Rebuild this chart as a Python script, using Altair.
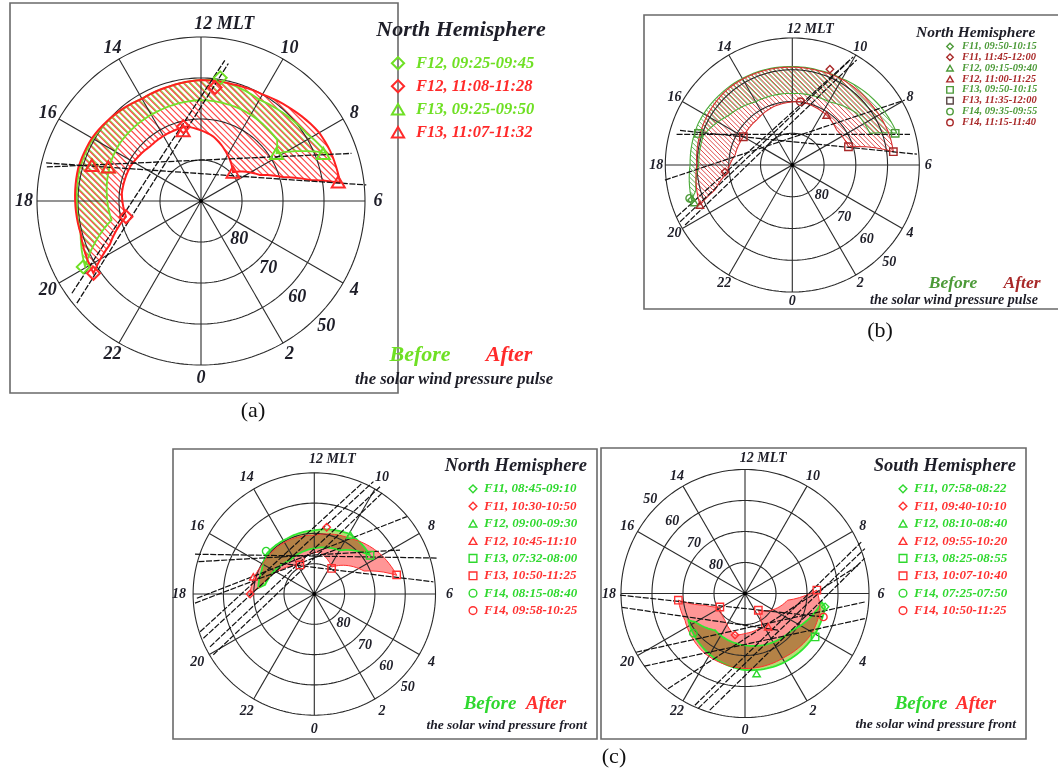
import numpy as np
import pandas as pd
import altair as alt

W, H = 1058, 769

# ---------------- grid / labels ----------------
LAT_CIRCLES = [80, 70, 60, 50]
LAT_TEXT = ["80", "70", "60", "50"]
HOUR_TICKS = [12, 14, 16, 18, 20, 22, 0, 2, 4, 6, 8, 10]
HOUR_TEXT = ["12 MLT", "14", "16", "18", "20", "22", "0", "2", "4", "6", "8", "10"]
SPOKE_HOURS = [12, 14, 16, 18, 20, 22]

# ---------------- panel (a) ----------------
A_AFTER_MLT = [20.26, 19.0, 18.0, 17.0, 16.0, 15.0, 14.0, 13.0, 12.0, 11.0, 10.0, 9.0, 8.0, 7.4, 6.5,
               6.73, 7.09, 7.59, 8.8, 10.11, 11.28, 12.73, 14.88, 16.28, 17.63, 18.79, 19.71]
A_AFTER_LAT = [58.4, 59.6, 59.3, 59.0, 59.3, 60.2, 61.2, 61.0, 60.5, 60.5, 60.0, 58.5, 56.7, 56.2, 55.8,
               62.9, 69.2, 74.3, 79.5, 76.8, 74.0, 71.5, 71.8, 70.8, 70.6, 71.3, 65.3]
A_BEFORE_MLT = [19.97, 19.0, 18.0, 17.0, 16.0, 15.0, 14.0, 13.0, 12.0, 11.41, 10.0, 9.0, 8.17, 7.39,
                8.15, 8.58, 10.4, 12.0, 13.6, 15.6, 16.35, 18.8]
A_BEFORE_LAT = [57.5, 59.6, 59.7, 59.4, 59.6, 60.3, 61.2, 61.0, 60.5, 60.3, 61.5, 60.5, 59.4, 57.2,
                68.2, 66.2, 65.6, 65.4, 65.7, 65.7, 66.0, 67.7]
A_TRACK_MLT1 = [17.17, 17.08, 20.37, 20.63]
A_TRACK_LAT1 = [51.5, 51.1, 51.3, 50.8]
A_TRACK_MLT2 = [7.17, 6.37, 11.36, 11.25]
A_TRACK_LAT2 = [51.5, 49.5, 55.2, 55.8]
A_MK_MLT = [11.41, 19.95, 16.79, 16.65, 8.15, 7.42, 11.53, 12.89, 18.79, 20.26, 16.79, 16.65, 12.95, 8.8, 6.53]
A_MK_LAT = [59.6, 57.1, 62.0, 65.9, 68.2, 58.0, 62.1, 71.4, 71.3, 58.4, 62.0, 65.9, 72.3, 79.5, 56.2]
A_MK_SHAPE = ["diamond", "diamond", "triangle-up", "triangle-up", "triangle-up", "triangle-up",
              "diamond", "diamond", "diamond", "diamond", "triangle-up", "triangle-up", "triangle-up",
              "triangle-up", "triangle-up"]
A_MK_GROUP = ["before"] * 6 + ["after"] * 9
A_LEG_TEXT = ["F12, 09:25-09:45", "F12, 11:08-11:28", "F13, 09:25-09:50", "F13, 11:07-11:32"]
A_LEG_SHAPE = ["diamond", "diamond", "triangle-up", "triangle-up"]
A_LEG_GROUP = ["before", "after", "before", "after"]

# ---------------- panel (b) ----------------
B_AFTER_MLT = [19.56, 18.0, 16.0, 14.75, 13.0, 12.0, 11.0, 10.0, 8.38, 7.2, 6.5,
               7.2, 8.55, 9.7, 11.52, 13.2, 14.55, 16.0, 17.34, 18.48, 19.19]
B_AFTER_LAT = [58.3, 59.9, 59.0, 58.6, 59.0, 59.2, 59.2, 58.8, 58.6, 58.0, 57.9,
               71.4, 72.2, 70.9, 69.9, 70.7, 71.9, 72.2, 71.7, 69.2, 64.4]
B_BEFORE_MLT = [19.28, 18.0, 16.4, 15.0, 13.0, 12.0, 11.0, 10.0, 8.07, 7.13,
                7.48, 8.59, 10.0, 12.0, 14.0, 15.5, 16.76, 18.0, 19.0]
B_BEFORE_LAT = [56.4, 57.8, 57.6, 58.2, 58.8, 59.0, 59.0, 58.6, 56.5, 55.6,
                63.6, 64.0, 67.0, 67.5, 67.0, 64.5, 60.5, 60.5, 58.5]
B_TRACK_MLT1 = [17.01, 16.86, 19.61, 19.79, 19.95, 18.45]
B_TRACK_LAT1 = [52.3, 53.0, 50.1, 50.4, 51.3, 49.6]
B_TRACK_MLT2 = [6.97, 6.33, 10.04, 10.1, 9.9, 8.0]
B_TRACK_LAT2 = [51.7, 50.6, 50.9, 53.0, 51.2, 49.1]
B_MK_MLT = [19.28, 16.76, 7.14, 19.4, 19.2, 10.57, 18.4, 19.56, 9.7, 16.0, 7.2, 6.5, 11.52]
B_MK_LAT = [56.4, 58.8, 56.1, 57.0, 56.0, 57.6, 68.7, 58.3, 70.9, 72.2, 71.4, 57.9, 69.9]
B_MK_SHAPE = ["diamond", "square", "square", "triangle-up", "circle",
              "diamond", "diamond", "triangle-up", "triangle-up", "square", "square", "square", "circle"]
B_MK_GROUP = ["before"] * 5 + ["after"] * 8
B_LEG_TEXT = ["F11, 09:50-10:15", "F11, 11:45-12:00", "F12, 09:15-09:40", "F12, 11:00-11:25",
              "F13, 09:50-10:15", "F13, 11:35-12:00", "F14, 09:35-09:55", "F14, 11:15-11:40"]

# ---------------- panel (c) left, north ----------------
CL_AFTER_MLT = [18.0, 16.95, 15.95, 14.35, 12.0, 9.81, 8.11, 6.85, 7.65, 9.81, 11.5, 12.74, 13.58, 15.7, 17.5]
CL_AFTER_LAT = [68.8, 69.4, 70.4, 70.3, 70.6, 68.2, 64.6, 62.1, 71.9, 79.4, 76.0, 77.0, 79.7, 76.2, 71.9]
CL_BEFORE_MLT = [17.6, 16.4, 15.3, 13.77, 12.0, 9.94, 8.32, 9.97, 12.1, 14.4, 17.3]
CL_BEFORE_LAT = [71.4, 71.0, 69.4, 69.6, 69.0, 67.0, 67.6, 73.3, 75.0, 76.3, 73.5]
CL_TRACK_MLT1 = [16.77, 16.96, 15.21, 19.22, 19.45, 19.79, 20.07, 18.14, 18.29]
CL_TRACK_LAT1 = [48.5, 50.3, 74.8, 50.3, 50.6, 51.4, 51.1, 51.2, 50.5]
CL_TRACK_MLT2 = [7.08, 7.81, 6.39, 10.45, 10.15, 9.9, 9.73, 8.66, 10.05]
CL_TRACK_LAT2 = [47.5, 58.2, 50.5, 50.3, 48.1, 48.5, 49.3, 50.2, 72.6]
CL_MK_MLT = [15.22, 9.9, 8.32, 11.3, 13.75, 9.73, 6.87, 16.95, 18.0]
CL_MK_LAT = [68.7, 67.2, 67.6, 67.6, 79.3, 79.8, 62.1, 69.1, 68.8]
CL_MK_SHAPE = ["circle", "triangle-up", "square", "diamond", "square", "square", "square", "triangle-up", "diamond"]
CL_MK_GROUP = ["before"] * 3 + ["after"] * 6
CL_LEG_TEXT = ["F11, 08:45-09:10", "F11, 10:30-10:50", "F12, 09:00-09:30", "F12, 10:45-11:10",
               "F13, 07:32-08:00", "F13, 10:50-11:25", "F14, 08:15-08:40", "F14, 09:58-10:25"]

# ---------------- panel (c) right, south ----------------
CR_AFTER_MLT = [18.38, 19.6, 21.75, 0.0, 2.15, 3.93, 5.16, 6.18, 5.4, 2.57, 1.77, 0.0, 23.1, 21.55, 19.88, 19.09]
CR_AFTER_LAT = [68.4, 68.8, 66.7, 65.8, 65.8, 64.9, 65.2, 66.8, 76.1, 83.1, 78.0, 77.1, 76.2, 79.2, 80.8, 76.6]
CR_BEFORE_MLT = [19.68, 22.35, 0.0, 2.02, 3.84, 5.37, 5.58, 3.45, 0.0, 21.38, 19.97]
CR_BEFORE_LAT = [69.8, 66.9, 65.3, 64.4, 63.9, 63.8, 65.1, 70.8, 73.3, 74.7, 71.5]
CR_TRACK_MLT1 = [18.05, 18.43, 19.89, 20.39, 22.39, 22.52, 22.88, 21.4]
CR_TRACK_LAT1 = [49.7, 50.1, 50.1, 50.0, 50.5, 49.9, 50.7, 50.5]
CR_TRACK_MLT2 = [4.89, 2.8, 5.73, 5.21, 7.59, 7.37, 7.09, 6.93]
CR_TRACK_LAT2 = [63.6, 74.1, 51.3, 50.5, 49.0, 48.7, 49.8, 52.4]
CR_MK_MLT = [0.55, 3.88, 5.37, 20.5, 18.38, 19.88, 2.57, 6.18, 23.1, 2.33, 4.89]
CR_MK_LAT = [63.9, 63.4, 63.8, 69.0, 68.4, 80.8, 83.1, 66.8, 76.2, 76.9, 63.6]
CR_MK_SHAPE = ["triangle-up", "square", "diamond", "circle", "square", "square", "square", "square",
               "diamond", "triangle-up", "circle"]
CR_MK_GROUP = ["before"] * 4 + ["after"] * 7
CR_LEG_TEXT = ["F11, 07:58-08:22", "F11, 09:40-10:10", "F12, 08:10-08:40", "F12, 09:55-10:20",
               "F13, 08:25-08:55", "F13, 10:07-10:40", "F14, 07:25-07:50", "F14, 10:50-11:25"]

LEG8_SHAPE = ["diamond", "diamond", "triangle-up", "triangle-up", "square", "square", "circle", "circle"]
LEG8_GROUP = ["before", "after"] * 4

# ---------------- layout (pixel geometry and styles) ----------------
P = {
    "a": dict(cx=201, cy=201, s=4.1, box=(10, 3, 398, 393), hour_fs=18, hour_off=13, lat_fs=18, lat_mlt=3.0,
              lat_off=13, title="North Hemisphere", title_xy=(461, 29), title_align="center", title_fs=22,
              leg_mx=398, leg_tx=416, leg_y0=62.7, leg_dy=23, leg_fs=16.5, mk=170, leg_mk=150, mk_w=2.0,
              before_xy=(420, 354), after_xy=(509, 354), ba_fs=22,
              sub="the solar wind pressure pulse", sub_xy=(553, 379), sub_fs=16.5,
              green="#6fe024", red="#ff2a2a", hatch_g="#84e448", hatch_r="#ff4545", hatch_sp=4.4,
              hatch_w=1.2, out_g="#74e02c", out_r="#ff2020", out_wg=1.8, out_wr=2.0, style="hatch",
              track_w=1.3,
              mlt_after=A_AFTER_MLT, lat_after=A_AFTER_LAT, mlt_before=A_BEFORE_MLT, lat_before=A_BEFORE_LAT,
              t_m1=A_TRACK_MLT1, t_l1=A_TRACK_LAT1, t_m2=A_TRACK_MLT2, t_l2=A_TRACK_LAT2,
              mk_m=A_MK_MLT, mk_l=A_MK_LAT, mk_s=A_MK_SHAPE, mk_g=A_MK_GROUP,
              leg_text=A_LEG_TEXT, leg_shape=A_LEG_SHAPE, leg_group=A_LEG_GROUP),
    "b": dict(cx=792.3, cy=165, s=3.175, box=(644, 15, 1075, 309), hour_fs=14, hour_off=9, lat_fs=14, lat_mlt=3.0,
              lat_off=10, title="North Hemisphere", title_xy=(916, 31.5), title_align="left", title_fs=15.5,
              leg_mx=950, leg_tx=962, leg_y0=46, leg_dy=10.85, leg_fs=10.5, mk=55, leg_mk=42, mk_w=1.4,
              before_xy=(953, 283), after_xy=(1022, 283), ba_fs=17.5,
              sub="the solar wind pressure pulse", sub_xy=(870, 300), sub_fs=14, sub_align="left",
              green="#4c9a38", red="#a82828", hatch_g="#68b85a", hatch_r="#e04848", hatch_sp=3.3,
              hatch_w=1.0, out_g="#4caa3a", out_r="#d83030", out_wg=1.1, out_wr=1.1, style="hatch",
              track_w=1.2,
              mlt_after=B_AFTER_MLT, lat_after=B_AFTER_LAT, mlt_before=B_BEFORE_MLT, lat_before=B_BEFORE_LAT,
              t_m1=B_TRACK_MLT1, t_l1=B_TRACK_LAT1, t_m2=B_TRACK_MLT2, t_l2=B_TRACK_LAT2,
              mk_m=B_MK_MLT, mk_l=B_MK_LAT, mk_s=B_MK_SHAPE, mk_g=B_MK_GROUP,
              leg_text=B_LEG_TEXT, leg_shape=LEG8_SHAPE, leg_group=LEG8_GROUP),
    "cl": dict(cx=314.3, cy=594, s=3.03, box=(173, 449, 597, 739), hour_fs=14, hour_off=14, lat_fs=14,
               lat_mlt=3.0, lat_off=11, title="North Hemisphere", title_xy=(587, 465), title_align="right",
               title_fs=18.5, leg_mx=473, leg_tx=484, leg_y0=488.3, leg_dy=17.4, leg_fs=13, mk=55, leg_mk=60,
               mk_w=1.4, before_xy=(490, 703), after_xy=(546, 703), ba_fs=19,
               sub="the solar wind pressure front", sub_xy=(587, 725), sub_fs=13.5,
               green="#2ed82e", red="#ff3030", out_g="#30e830", out_r="#ff3030", out_wg=1.8, out_wr=1.0,
               style="fill", track_w=1.2,
               mlt_after=CL_AFTER_MLT, lat_after=CL_AFTER_LAT, mlt_before=CL_BEFORE_MLT, lat_before=CL_BEFORE_LAT,
               t_m1=CL_TRACK_MLT1, t_l1=CL_TRACK_LAT1, t_m2=CL_TRACK_MLT2, t_l2=CL_TRACK_LAT2,
               mk_m=CL_MK_MLT, mk_l=CL_MK_LAT, mk_s=CL_MK_SHAPE, mk_g=CL_MK_GROUP,
               leg_text=CL_LEG_TEXT, leg_shape=LEG8_SHAPE, leg_group=LEG8_GROUP),
    "cr": dict(cx=745, cy=593.5, s=3.1, box=(601, 448, 1026, 739), hour_fs=14, hour_off=12, lat_fs=14,
               lat_mlt=15.0, lat_off=10, title="South Hemisphere", title_xy=(1016, 465), title_align="right",
               title_fs=18.5, leg_mx=903, leg_tx=914, leg_y0=488.3, leg_dy=17.4, leg_fs=13, mk=55, leg_mk=60,
               mk_w=1.4, before_xy=(921, 703), after_xy=(976, 703), ba_fs=19,
               sub="the solar wind pressure front", sub_xy=(1016, 724), sub_fs=13.5,
               green="#2ed82e", red="#ff3030", out_g="#30e830", out_r="#ff3030", out_wg=1.8, out_wr=1.0,
               style="fill", track_w=1.2,
               mlt_after=CR_AFTER_MLT, lat_after=CR_AFTER_LAT, mlt_before=CR_BEFORE_MLT, lat_before=CR_BEFORE_LAT,
               t_m1=CR_TRACK_MLT1, t_l1=CR_TRACK_LAT1, t_m2=CR_TRACK_MLT2, t_l2=CR_TRACK_LAT2,
               mk_m=CR_MK_MLT, mk_l=CR_MK_LAT, mk_s=CR_MK_SHAPE, mk_g=CR_MK_GROUP,
               leg_text=CR_LEG_TEXT, leg_shape=LEG8_SHAPE, leg_group=LEG8_GROUP),
}
CAPTIONS = [("(a)", 253, 410), ("(b)", 880, 330), ("(c)", 614, 756)]


def to_xy(p, mlt, lat):
    mlt = np.asarray(mlt, float)
    lat = np.abs(np.asarray(lat, float))
    r = (90.0 - lat) * p["s"]
    th = np.deg2rad((12.0 - mlt) * 15.0)
    return p["cx"] + r * np.sin(th), p["cy"] - r * np.cos(th)


def at_radius(p, mlt, rpx):
    th = np.deg2rad((12.0 - mlt) * 15.0)
    return p["cx"] + rpx * np.sin(th), p["cy"] - rpx * np.cos(th)


def resample(mlt, lat, per_hour=6):
    """trace a closed boundary in (MLT, lat) so arcs stay curved after projection"""
    om, ol = [], []
    n = len(mlt)
    for i in range(n):
        m1, l1 = mlt[i], lat[i]
        m2, l2 = mlt[(i + 1) % n], lat[(i + 1) % n]
        dm = ((m2 - m1 + 12) % 24) - 12
        k = max(1, int(np.ceil(abs(dm) * per_hour)))
        for j in range(k):
            t = j / k
            om.append(m1 + dm * t)
            ol.append(l1 + (l2 - l1) * t)
    return np.array(om), np.array(ol)


def hatch(px, py, spacing, offset):
    u = px - py
    step = spacing * np.sqrt(2)
    segs = []
    n = len(px)
    for c in np.arange(u.min() + offset * np.sqrt(2), u.max(), step):
        hits = []
        for i in range(n):
            j = (i + 1) % n
            a, b = u[i] - c, u[j] - c
            if (a < 0) != (b < 0):
                t = a / (a - b)
                hits.append((px[i] + t * (px[j] - px[i]), py[i] + t * (py[j] - py[i])))
        hits.sort(key=lambda h: h[0] + h[1])
        for k in range(0, len(hits) - 1, 2):
            segs.append((hits[k][0], hits[k][1], hits[k + 1][0], hits[k + 1][1]))
    return segs


boxes, circles, spokes, centers = [], [], [], []
hatches, fills_r, fills_g, outlines, tracks, markers, texts = [], [], [], [], [], [], []

for key, p in P.items():
    x0, y0, x1, y1 = p["box"]
    boxes.append(dict(x=x0, y=y0, x2=x1, y2=y1))
    grid_m = np.linspace(0, 24, 241)
    for lat in LAT_CIRCLES:
        gx, gy = to_xy(p, grid_m, np.full_like(grid_m, lat))
        for i, (a, b) in enumerate(zip(gx, gy)):
            circles.append(dict(k=f"{key}{lat}", i=i, x=a, y=b))
    for h in SPOKE_HOURS:
        ax_, ay_ = to_xy(p, [h, h + 12], [50, 50])
        spokes.append(dict(x=ax_[0], y=ay_[0], x2=ax_[1], y2=ay_[1]))
    cxy = to_xy(p, [0], [90])
    centers.append(dict(x=cxy[0][0], y=cxy[1][0]))

    # ovals
    for grp in ["before", "after"]:
        mm, ll = resample(p[f"mlt_{grp}"], p[f"lat_{grp}"])
        px, py = to_xy(p, mm, ll)
        col_out = p["out_g"] if grp == "before" else p["out_r"]
        wid = p["out_wg"] if grp == "before" else p["out_wr"]
        for i, (a, b) in enumerate(zip(px, py)):
            outlines.append(dict(k=f"{key}{grp}", i=i, x=a, y=b, color=col_out, w=wid))
        if p["style"] == "hatch":
            off = p["hatch_sp"] / 2 if grp == "before" else 0.0
            hc = p["hatch_g"] if grp == "before" else p["hatch_r"]
            for s in hatch(px, py, p["hatch_sp"], off):
                hatches.append(dict(x=s[0], y=s[1], x2=s[2], y2=s[3], color=hc, w=p["hatch_w"]))
        else:
            target = fills_g if grp == "before" else fills_r
            for i, (a, b) in enumerate(zip(px, py)):
                target.append(dict(k=f"{key}{grp}", i=i, x=a, y=b))

    # satellite tracks
    tx1, ty1 = to_xy(p, p["t_m1"], p["t_l1"])
    tx2, ty2 = to_xy(p, p["t_m2"], p["t_l2"])
    for a, b, c, d in zip(tx1, ty1, tx2, ty2):
        tracks.append(dict(x=a, y=b, x2=c, y2=d, w=p["track_w"]))

    # boundary markers
    mx, my = to_xy(p, p["mk_m"], p["mk_l"])
    for a, b, s, g in zip(mx, my, p["mk_s"], p["mk_g"]):
        markers.append(dict(x=a, y=b, shape=s, color=p["green"] if g == "before" else p["red"],
                            size=p["mk"], w=p["mk_w"]))

    # hour labels
    rlab = 40 * p["s"] + p["hour_off"]
    for h, t in zip(HOUR_TICKS, HOUR_TEXT):
        lx, ly = at_radius(p, h, rlab)
        if t.endswith("MLT"):
            texts.append(dict(x=lx - 0.38 * p["hour_fs"], y=ly, text=t, color="#1e1e28", fs=p["hour_fs"],
                              align="left", st="bi"))
        else:
            texts.append(dict(x=lx, y=ly, text=t, color="#1e1e28", fs=p["hour_fs"], align="center", st="bi"))
    for lat, t in zip(LAT_CIRCLES, LAT_TEXT):
        lx, ly = at_radius(p, p["lat_mlt"], (90 - lat) * p["s"] + p["lat_off"])
        texts.append(dict(x=lx, y=ly, text=t, color="#1e1e28", fs=p["lat_fs"], align="center", st="bi"))

    # legend
    texts.append(dict(x=p["title_xy"][0], y=p["title_xy"][1], text=p["title"], color="#1e1e28",
                      fs=p["title_fs"], align=p["title_align"], st="bi"))
    for i, (t, s, g) in enumerate(zip(p["leg_text"], p["leg_shape"], p["leg_group"])):
        yy = p["leg_y0"] + i * p["leg_dy"]
        col = p["green"] if g == "before" else p["red"]
        mcol = col
        if key == "b" and i == 5:
            mcol = "#5a4646"
        markers.append(dict(x=p["leg_mx"], y=yy + 0.5, shape=s, color=mcol, size=p["leg_mk"], w=p["mk_w"]))
        texts.append(dict(x=p["leg_tx"], y=yy, text=t, color=col, fs=p["leg_fs"], align="left", st="bi"))
    texts.append(dict(x=p["before_xy"][0], y=p["before_xy"][1], text="Before", color=p["green"],
                      fs=p["ba_fs"], align="center", st="bi"))
    texts.append(dict(x=p["after_xy"][0], y=p["after_xy"][1], text="After", color=p["red"],
                      fs=p["ba_fs"], align="center", st="bi"))
    texts.append(dict(x=p["sub_xy"][0], y=p["sub_xy"][1], text=p["sub"], color="#1e1e28",
                      fs=p["sub_fs"], align=p.get("sub_align", "right"), st="bi"))

for t, x, y in CAPTIONS:
    texts.append(dict(x=x, y=y, text=t, color="#111111", fs=22, align="center", st="r"))

XS = alt.Scale(domain=[0, W], nice=False, zero=False)
YS = alt.Scale(domain=[0, H], nice=False, zero=False, reverse=True)
X = lambda f="x": alt.X(f"{f}:Q", scale=XS, axis=None)
Y = lambda f="y": alt.Y(f"{f}:Q", scale=YS, axis=None)

layers = []
layers.append(alt.Chart(pd.DataFrame(boxes)).mark_rect(filled=False, color="#6a6a6a", strokeWidth=1.6).encode(
    x=X(), y=Y(), x2="x2:Q", y2="y2:Q"))
if fills_r:
    layers.append(alt.Chart(pd.DataFrame(fills_r)).mark_line(
        interpolate="linear-closed", fill="#ff4040", fillOpacity=0.55, strokeOpacity=0).encode(
        x=X(), y=Y(), detail="k:N", order="i:Q"))
if fills_g:
    layers.append(alt.Chart(pd.DataFrame(fills_g)).mark_line(
        interpolate="linear-closed", fill="#b4dd77", fillOpacity=1, strokeOpacity=0, blend="multiply").encode(
        x=X(), y=Y(), detail="k:N", order="i:Q"))
layers.append(alt.Chart(pd.DataFrame(hatches)).mark_rule().encode(
    x=X(), y=Y(), x2="x2:Q", y2="y2:Q", color=alt.Color("color:N", scale=None),
    strokeWidth=alt.StrokeWidth("w:Q", scale=None)))
layers.append(alt.Chart(pd.DataFrame(circles)).mark_line(color="#2a2a2a", strokeWidth=1.1).encode(
    x=X(), y=Y(), detail="k:N", order="i:Q"))
layers.append(alt.Chart(pd.DataFrame(spokes)).mark_rule(color="#2a2a2a", strokeWidth=1.1).encode(
    x=X(), y=Y(), x2="x2:Q", y2="y2:Q"))
layers.append(alt.Chart(pd.DataFrame(centers)).mark_point(filled=True, color="#000000", size=18, opacity=1).encode(
    x=X(), y=Y()))
layers.append(alt.Chart(pd.DataFrame(outlines)).mark_line(interpolate="linear-closed").encode(
    x=X(), y=Y(), detail="k:N", order="i:Q", color=alt.Color("color:N", scale=None),
    strokeWidth=alt.StrokeWidth("w:Q", scale=None)))
layers.append(alt.Chart(pd.DataFrame(tracks)).mark_rule(color="#111111", strokeDash=[6, 1.6]).encode(
    x=X(), y=Y(), x2="x2:Q", y2="y2:Q", strokeWidth=alt.StrokeWidth("w:Q", scale=None)))
layers.append(alt.Chart(pd.DataFrame(markers)).mark_point(filled=False, opacity=1).encode(
    x=X(), y=Y(), shape=alt.Shape("shape:N", scale=None), color=alt.Color("color:N", scale=None),
    size=alt.Size("size:Q", scale=None), strokeWidth=alt.StrokeWidth("w:Q", scale=None)))

tdf = pd.DataFrame(texts)
for (al, st), sub in tdf.groupby(["align", "st"]):
    kw = dict(font="Liberation Serif", align=al, baseline="middle")
    if st == "bi":
        kw.update(fontStyle="italic", fontWeight="bold")
    layers.append(alt.Chart(sub).mark_text(**kw).encode(
        x=X(), y=Y(), text="text:N", color=alt.Color("color:N", scale=None),
        size=alt.Size("fs:Q", scale=None)))

chart = alt.layer(*layers).properties(
    width=W, height=H, padding=0, autosize=alt.AutoSizeParams(type="none"), background="white"
).configure_view(stroke=None)

chart.save("out.html", embed_options={"renderer": "svg", "actions": False})
